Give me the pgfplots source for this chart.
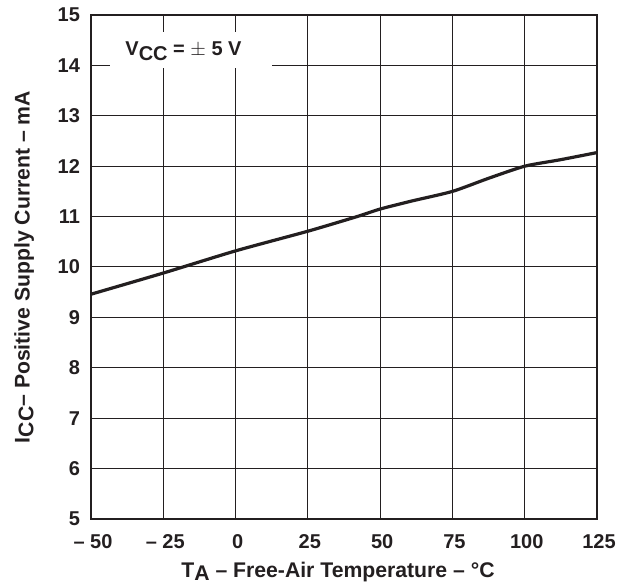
\documentclass[border=0pt]{standalone}
\usepackage{pgfplots}
\pgfplotsset{compat=1.18}
\usepackage{fontspec}
\setmainfont{Liberation Sans}
\definecolor{ink}{HTML}{231F20}
\begin{document}
\begin{tikzpicture}
\path[use as bounding box] (-45.5pt,-32pt) rectangle (268.5pt,259.5pt);
\begin{axis}[
  at={(0,0)}, anchor=south west,
  scale only axis, width=253pt, height=252pt,
  xmin=-50, xmax=125, ymin=5, ymax=15,
  xtick={-50,-25,0,25,50,75,100,125},
  xticklabels={-- 50,-- 25,0,25,50,75,100,125},
  ytick={5,6,...,15},
  grid=major,
  major grid style={line width=0.5pt, ink},
  major tick length=0pt,
  axis line style={line width=1.1pt, ink},
  tick label style={font=\bfseries\fontsize{10}{12}\selectfont, text=ink},
  /pgf/number format/assume math mode=true,
  xticklabel style={yshift=-3.5pt, xshift=1pt, text height=7.5pt, text depth=0pt},
  yticklabel style={xshift=-2pt},
  label style={font=\bfseries\fontsize{10.6}{12}\selectfont, text=ink},
  xlabel={T\raisebox{-0.3ex}{A} -- Free-Air Temperature -- \textdegree C},
  ylabel={I\raisebox{-0.35ex}{CC}-- Positive Supply Current -- mA},
  xlabel style={yshift=0pt, xshift=-3pt},
  ylabel style={yshift=5pt},
]
\addplot[ink, line width=1.6pt, smooth, tension=0.4] coordinates {
(-50,9.46) (-25,9.88) (0,10.32) (25,10.71) (42,11.0) (50,11.15) (61,11.31) (75,11.5) (87.5,11.76) (100,12.0) (112.5,12.13) (125,12.27)
};
\fill[white] (axis cs:-43.4,13.95) rectangle (axis cs:12.6,14.66);
\node[inner sep=0pt, anchor=base, text=ink,
      font=\bfseries\fontsize{10}{12}\selectfont]
  at (axis cs:-18,14.19) {V\raisebox{-0.45ex}{CC} = $\pm$ 5 V};
\end{axis}
\end{tikzpicture}
\end{document}
